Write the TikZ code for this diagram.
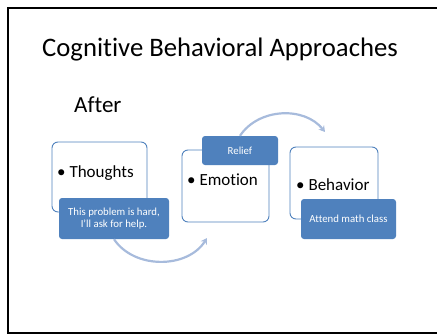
\documentclass[tikz,border=0pt]{standalone}
\usepackage{fontspec}
\setmainfont{Carlito}[Ligatures=NoCommon]
\usepackage{tikz}
\usetikzlibrary{arrows.meta,positioning}
\definecolor{officeblue}{HTML}{4F81BD}
\definecolor{arcblue}{HTML}{A7BBDC}

\begin{document}
\begin{tikzpicture}[
			x = 1pt, y = -1pt,
			card/.style = {draw=officeblue, line width=0.9pt, rounded corners=6pt, fill=white, inner sep=0pt},
			note/.style = {fill=officeblue, rounded corners=3pt, text=white, align=center, inner sep=0pt,
				font=\fontsize{10.8}{12.5}\selectfont},
			item/.style = {anchor=west, inner sep=0pt, font=\fontsize{17}{20}\selectfont},
			cycle/.style = {draw=arcblue, line width=2.2pt, -{Stealth[length=6pt,width=7pt]}}]
			\useasboundingbox (0,0) rectangle (437,335);
			\draw[line width=2.6pt] (437,8) -- (8,8) -- (8,333) -- (437,333);

			\node[font=\fontsize{26.7}{32}\selectfont] (title) at (220,50) {Cognitive Behavioral Approaches};
			\node[anchor=west, inner sep=0pt, font=\fontsize{23}{28}\selectfont] (after) at (74,105) {After};

			\node[card, minimum width=95, minimum height=70] (thoughts) at (99.5,177) {};
			\node[card, minimum width=87, minimum height=72] (emotion) at (225.5,186) {};
			\node[card, minimum width=88, minimum height=72] (behavior) at (334,183) {};

			\node[item] (thoughtstext) at (57,173) {\textbullet\ Thoughts};
			\node[item] (emotiontext) at (187,180) {\textbullet\ Emotion};
			\node[item] (behaviortext) at (296,185) {\textbullet\ Behavior};

			\node[note, minimum width=110, minimum height=41] (thoughtsnote) at (114,218.5) {This problem is hard,\\I'll ask for help.};
			\node[note, minimum width=76, minimum height=29] (relief) at (240,150.5) {Relief};
			\node[note, minimum width=95, minimum height=40] (attend) at (348.5,219) {Attend math class};

			\coordinate (emotionin) at (207,238);
			\coordinate (behaviorin) at (325,132);
			\draw[cycle] (thoughtsnote.south) to[bend right=57] (emotionin);
			\draw[cycle] (relief.north) to[bend left=54] (behaviorin);

		\end{tikzpicture}
\end{document}
